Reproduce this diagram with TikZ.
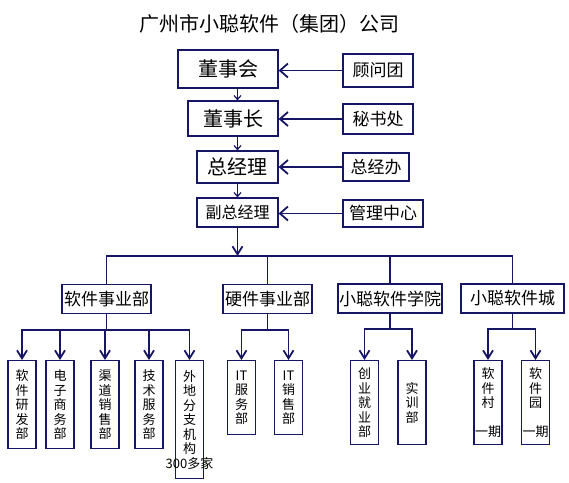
\documentclass[tikz,border=0pt]{standalone}
\usepackage{fontspec}
\setmainfont{Noto Sans CJK SC}
\usetikzlibrary{arrows.meta}
\definecolor{orgline}{RGB}{22,22,100}
\tikzset{
  box/.style={draw=orgline, line width=1.2pt, inner sep=0pt},
  leaf/.style={box, anchor=north, minimum width=28pt, align=center,
    font=\fontsize{13}{14.5}\selectfont},
  link/.style={draw=orgline, line width=1.8pt},
  sidearrow/.style={link, -{Straight Barb[length=8pt,width=14pt,line width=1.8pt]}},
  downarrow/.style={link, -{Straight Barb[length=8pt,width=10pt,line width=1.8pt]}},
  smallarrow/.style={link, line width=1.2pt, -{Straight Barb[length=4pt,width=7pt,line width=1.2pt]}},
}
\begin{document}
\begin{tikzpicture}[x=1pt,y=-1pt] % group chart, 1pt = 1px of the reference
\useasboundingbox (0,0) rectangle (569,482);
\def\LeafTop{360} % top edge of the bottom row

\node (title) at (269,24) {\fontsize{20}{22}\selectfont 广州市小聪软件（集团）公司};

% main line
\node[box, minimum width=100pt, minimum height=38pt, font=\fontsize{20}{22}\selectfont] (dsh) at (228,69) {董事会};
\node[box, minimum width=90pt, minimum height=35pt, font=\fontsize{20}{22}\selectfont] (dsz) at (233,118.5) {董事长};
\node[box, minimum width=81pt, minimum height=32pt, font=\fontsize{20}{22}\selectfont] (zjl) at (237.5,167) {总经理};
\node[box, minimum width=81pt, minimum height=29pt, font=\fontsize{16}{18}\selectfont] (fzjl) at (237.5,212.5) {副总经理};

% staff offices
\node[box, minimum width=70pt, minimum height=33pt, font=\fontsize{17}{19}\selectfont] (gwt) at (378,70.5) {顾问团};
\node[box, minimum width=70pt, minimum height=30pt, font=\fontsize{17}{19}\selectfont] (msc) at (378,119) {秘书处};
\node[box, minimum width=66pt, minimum height=28pt, font=\fontsize{17}{19}\selectfont] (zjb) at (376,167) {总经办};
\node[box, minimum width=80pt, minimum height=27pt, font=\fontsize{17}{19}\selectfont] (glzx) at (383,213.5) {管理中心};

\draw[sidearrow] (gwt.west) -- (gwt.west -| dsh.east);
\draw[sidearrow] (msc.west) -- (msc.west -| dsz.east);
\draw[sidearrow] (zjb.west) -- (zjb.west -| zjl.east);
\draw[sidearrow] (glzx.west) -- (glzx.west -| fzjl.east);

\draw[smallarrow] (dsh.south -| fzjl.south) -- (dsz.north -| fzjl.south);
\draw[smallarrow] (dsz.south -| fzjl.south) -- (zjl.north -| fzjl.south);
\draw[smallarrow] (zjl.south -| fzjl.south) -- (fzjl.north);

% divisions
\node[box, minimum width=89pt, minimum height=29pt, font=\fontsize{17}{19}\selectfont] (rj) at (106.5,299) {软件事业部};
\node[box, minimum width=89pt, minimum height=29pt, font=\fontsize{17}{19}\selectfont] (yj) at (267.5,299) {硬件事业部};
\node[box, minimum width=104pt, minimum height=29pt, font=\fontsize{17}{19}\selectfont] (xy) at (390,298.5) {小聪软件学院};
\node[box, minimum width=103pt, minimum height=29pt, font=\fontsize{17}{19}\selectfont] (cheng) at (512.5,298.5) {小聪软件城};

\coordinate (bus) at (237.5,256);
\draw[downarrow] (fzjl.south) -- (bus);
\draw[link] (rj.north) -- (rj.north |- bus) -- (cheng.north |- bus) -- (cheng.north);
\draw[link] (yj.north) -- (yj.north |- bus);
\draw[link] (xy.north) -- (xy.north |- bus);

% departments
\node[leaf, minimum height=88pt] (rjyf) at (22,\LeafTop) {软\\件\\研\\发\\部};
\node[leaf, minimum height=88pt] (dzsw) at (60,\LeafTop) {电\\子\\商\\务\\部};
\node[leaf, minimum height=88pt] (qdxs) at (105,\LeafTop) {渠\\道\\销\\售\\部};
\node[leaf, minimum height=88pt] (jsfw) at (149,\LeafTop) {技\\术\\服\\务\\部};
\node[leaf, minimum height=118pt] (wdfz) at (189.5,\LeafTop) {外\\地\\分\\支\\机\\构\\\makebox[0pt][c]{300多家}};
\node[leaf, minimum height=74pt] (itfw) at (241.5,\LeafTop) {IT\\服\\务\\部};
\node[leaf, minimum height=74pt] (itxs) at (288.5,\LeafTop) {IT\\销\\售\\部};
\node[leaf, minimum height=84pt] (cyjy) at (364.5,\LeafTop) {创\\业\\就\\业\\部};
\node[leaf, minimum height=84pt] (sx) at (412,\LeafTop) {实\\训\\部};
\node[leaf, minimum height=84pt] (rjc) at (488,\LeafTop) {软\\件\\村\\[14.5pt]一期};
\node[leaf, minimum height=84pt] (rjy) at (535.5,\LeafTop) {软\\件\\园\\[14.5pt]一期};

\foreach \d in {rjyf,dzsw,qdxs,jsfw,wdfz}
  \draw[downarrow] (rj.south) -- ++(0,16) -| (\d.north);
\foreach \d in {itfw,itxs}
  \draw[downarrow] (yj.south) -- ++(0,16) -| (\d.north);
\foreach \d in {cyjy,sx}
  \draw[downarrow] (xy.south) -- ++(0,15.5) -| (\d.north);
\foreach \d in {rjc,rjy}
  \draw[downarrow] (cheng.south) -- ++(0,15.5) -| (\d.north);
\end{tikzpicture}
\end{document}
